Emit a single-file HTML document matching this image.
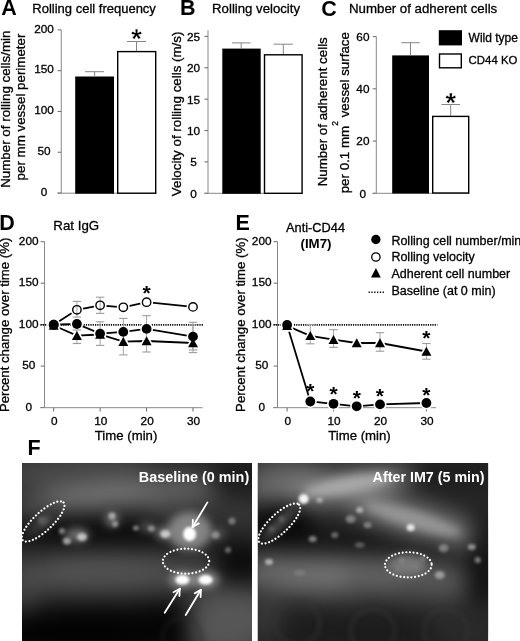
<!DOCTYPE html>
<html><head><meta charset="utf-8"><style>
html,body{margin:0;padding:0;background:#fff;}
body{width:520px;height:641px;overflow:hidden;}
svg{display:block;font-family:"Liberation Sans", sans-serif;filter:grayscale(1);}
</style></head><body>
<svg width="520" height="641" viewBox="0 0 520 641">
<rect width="520" height="641" fill="#fff"/>
<text x="1.2" y="14.8" font-size="21.5" text-anchor="start" font-weight="bold" fill="#000" >A</text>
<text x="32.3" y="12.6" font-size="13" text-anchor="start" font-weight="normal" fill="#000" stroke="#000" stroke-width="0.3" >Rolling cell frequency</text>
<text transform="translate(10.2,187.8) rotate(-90)" font-size="13.35" text-anchor="start" stroke="#000" stroke-width="0.3">Number of rolling cells/min</text>
<text transform="translate(25.2,180.4) rotate(-90)" font-size="13.35" text-anchor="start" stroke="#000" stroke-width="0.3">per mm vessel perimeter</text>
<line x1="61.25" y1="30" x2="61.25" y2="193.2" stroke="#888888" stroke-width="1" />
<line x1="57.65" y1="193.0" x2="61.25" y2="193.0" stroke="#6a6a6a" stroke-width="1" />
<text x="44.1" y="195.7244" font-size="11.8" text-anchor="middle" font-weight="normal" fill="#000" stroke="#000" stroke-width="0.3" >0</text>
<line x1="57.65" y1="152.225" x2="61.25" y2="152.225" stroke="#6a6a6a" stroke-width="1" />
<text x="44.1" y="154.9494" font-size="11.8" text-anchor="middle" font-weight="normal" fill="#000" stroke="#000" stroke-width="0.3" >50</text>
<line x1="57.65" y1="111.45" x2="61.25" y2="111.45" stroke="#6a6a6a" stroke-width="1" />
<text x="44.1" y="114.1744" font-size="11.8" text-anchor="middle" font-weight="normal" fill="#000" stroke="#000" stroke-width="0.3" >100</text>
<line x1="57.65" y1="70.675" x2="61.25" y2="70.675" stroke="#6a6a6a" stroke-width="1" />
<text x="44.1" y="73.3994" font-size="11.8" text-anchor="middle" font-weight="normal" fill="#000" stroke="#000" stroke-width="0.3" >150</text>
<line x1="57.65" y1="29.900000000000006" x2="61.25" y2="29.900000000000006" stroke="#6a6a6a" stroke-width="1" />
<text x="44.1" y="32.62440000000001" font-size="11.8" text-anchor="middle" font-weight="normal" fill="#000" stroke="#000" stroke-width="0.3" >200</text>
<line x1="57.65" y1="193.2" x2="156.5" y2="193.2" stroke="#888888" stroke-width="1" />
<rect x="75.2" y="76.5" width="38.8" height="117.2" fill="#000" stroke="none" stroke-width="0"/>
<line x1="94.6" y1="76.7" x2="94.6" y2="71.7" stroke="#858585" stroke-width="1" />
<line x1="85" y1="71.7" x2="104" y2="71.7" stroke="#858585" stroke-width="1" />
<line x1="136.5" y1="51" x2="136.5" y2="41.5" stroke="#858585" stroke-width="1" />
<line x1="127" y1="41.5" x2="146" y2="41.5" stroke="#858585" stroke-width="1" />
<rect x="117.7" y="51.6" width="38" height="141.6" fill="#fff" stroke="#000" stroke-width="1.4"/>
<text x="136.6" y="48.2" font-size="27" text-anchor="middle" font-weight="bold" fill="#000" stroke="#fff" stroke-width="0.35">*</text>
<text x="180.0" y="14.9" font-size="21.5" text-anchor="start" font-weight="bold" fill="#000" >B</text>
<text x="212.1" y="12.6" font-size="13.2" text-anchor="start" font-weight="normal" fill="#000" stroke="#000" stroke-width="0.3" >Rolling velocity</text>
<text transform="translate(181.0,196.2) rotate(-90)" font-size="13.35" text-anchor="start" stroke="#000" stroke-width="0.3">Velocity of rolling cells (m/s)</text>
<line x1="208" y1="30.2" x2="208" y2="193.3" stroke="#888888" stroke-width="1" />
<line x1="204.4" y1="193.3" x2="208" y2="193.3" stroke="#6a6a6a" stroke-width="1" />
<text x="193.6" y="197.82440000000003" font-size="11.8" text-anchor="middle" font-weight="normal" fill="#000" stroke="#000" stroke-width="0.3" >0</text>
<line x1="204.4" y1="161.92000000000002" x2="208" y2="161.92000000000002" stroke="#6a6a6a" stroke-width="1" />
<text x="193.6" y="166.44440000000003" font-size="11.8" text-anchor="middle" font-weight="normal" fill="#000" stroke="#000" stroke-width="0.3" >5</text>
<line x1="204.4" y1="130.54000000000002" x2="208" y2="130.54000000000002" stroke="#6a6a6a" stroke-width="1" />
<text x="193.6" y="135.06440000000003" font-size="11.8" text-anchor="middle" font-weight="normal" fill="#000" stroke="#000" stroke-width="0.3" >10</text>
<line x1="204.4" y1="99.16000000000001" x2="208" y2="99.16000000000001" stroke="#6a6a6a" stroke-width="1" />
<text x="193.6" y="103.68440000000001" font-size="11.8" text-anchor="middle" font-weight="normal" fill="#000" stroke="#000" stroke-width="0.3" >15</text>
<line x1="204.4" y1="67.78000000000002" x2="208" y2="67.78000000000002" stroke="#6a6a6a" stroke-width="1" />
<text x="193.6" y="72.30440000000002" font-size="11.8" text-anchor="middle" font-weight="normal" fill="#000" stroke="#000" stroke-width="0.3" >20</text>
<line x1="204.4" y1="36.400000000000006" x2="208" y2="36.400000000000006" stroke="#6a6a6a" stroke-width="1" />
<text x="193.6" y="40.924400000000006" font-size="11.8" text-anchor="middle" font-weight="normal" fill="#000" stroke="#000" stroke-width="0.3" >25</text>
<line x1="204.4" y1="193.3" x2="303" y2="193.3" stroke="#888888" stroke-width="1" />
<rect x="222.3" y="48.6" width="38.4" height="145.20000000000002" fill="#000" stroke="none" stroke-width="0"/>
<line x1="241.2" y1="48.8" x2="241.2" y2="42.9" stroke="#858585" stroke-width="1" />
<line x1="232" y1="42.9" x2="250.5" y2="42.9" stroke="#858585" stroke-width="1" />
<line x1="283.3" y1="54.5" x2="283.3" y2="44.2" stroke="#858585" stroke-width="1" />
<line x1="273.7" y1="44.2" x2="292.8" y2="44.2" stroke="#858585" stroke-width="1" />
<rect x="264.5" y="54.8" width="37.6" height="138.5" fill="#fff" stroke="#000" stroke-width="1.4"/>
<text x="321.3" y="16.0" font-size="21.5" text-anchor="start" font-weight="bold" fill="#000" >C</text>
<text x="349" y="12.7" font-size="13.27" text-anchor="start" font-weight="normal" fill="#000" stroke="#000" stroke-width="0.3" >Number of adherent cells</text>
<text transform="translate(326.8,186.3) rotate(-90)" font-size="13.35" text-anchor="start" stroke="#000" stroke-width="0.3">Number of adherent cells</text>
<text transform="translate(348.8,193.3) rotate(-90)" font-size="13.35" text-anchor="start" stroke="#000" stroke-width="0.3">per 0.1 mm<tspan dy="-10.5" font-size="8.5">2</tspan><tspan dy="10.5"> vessel surface</tspan></text>
<line x1="376.3" y1="36.6" x2="376.3" y2="193.3" stroke="#888888" stroke-width="1" />
<line x1="372.7" y1="193.3" x2="376.3" y2="193.3" stroke="#6a6a6a" stroke-width="1" />
<text x="362.9" y="197.5244" font-size="11.8" text-anchor="middle" font-weight="normal" fill="#000" stroke="#000" stroke-width="0.3" >0</text>
<line x1="372.7" y1="141.06666666666666" x2="376.3" y2="141.06666666666666" stroke="#6a6a6a" stroke-width="1" />
<text x="362.9" y="145.29106666666667" font-size="11.8" text-anchor="middle" font-weight="normal" fill="#000" stroke="#000" stroke-width="0.3" >20</text>
<line x1="372.7" y1="88.83333333333334" x2="376.3" y2="88.83333333333334" stroke="#6a6a6a" stroke-width="1" />
<text x="362.9" y="93.05773333333335" font-size="11.8" text-anchor="middle" font-weight="normal" fill="#000" stroke="#000" stroke-width="0.3" >40</text>
<line x1="372.7" y1="36.599999999999994" x2="376.3" y2="36.599999999999994" stroke="#6a6a6a" stroke-width="1" />
<text x="362.9" y="40.8244" font-size="11.8" text-anchor="middle" font-weight="normal" fill="#000" stroke="#000" stroke-width="0.3" >60</text>
<line x1="372.7" y1="193.3" x2="469.5" y2="193.3" stroke="#888888" stroke-width="1" />
<rect x="392.2" y="55.4" width="36.8" height="138.1" fill="#000" stroke="none" stroke-width="0"/>
<line x1="410.5" y1="55.4" x2="410.5" y2="42.7" stroke="#858585" stroke-width="1" />
<line x1="401.3" y1="42.7" x2="419.7" y2="42.7" stroke="#858585" stroke-width="1" />
<line x1="450.7" y1="116.2" x2="450.7" y2="104.5" stroke="#858585" stroke-width="1" />
<line x1="441.5" y1="104.5" x2="460" y2="104.5" stroke="#858585" stroke-width="1" />
<rect x="432.7" y="116.4" width="36" height="76.60000000000001" fill="#fff" stroke="#000" stroke-width="1.4"/>
<text x="450.8" y="112.0" font-size="27" text-anchor="middle" font-weight="bold" fill="#000" stroke="#fff" stroke-width="0.35">*</text>
<rect x="438.8" y="30.2" width="23.2" height="15.2" fill="#000" stroke="none" stroke-width="0"/>
<rect x="439.5" y="54" width="21.8" height="13.8" fill="#fff" stroke="#000" stroke-width="1.4"/>
<text x="468.6" y="42.4" font-size="12" text-anchor="start" font-weight="normal" fill="#000" stroke="#000" stroke-width="0.3" >Wild type</text>
<text x="468.6" y="64.3" font-size="11.4" text-anchor="start" font-weight="normal" fill="#000" stroke="#000" stroke-width="0.3" >CD44 KO</text>
<text x="-0.7" y="230.0" font-size="21.5" text-anchor="start" font-weight="bold" fill="#000" >D</text>
<text x="53.3" y="230.2" font-size="13.3" text-anchor="start" font-weight="normal" fill="#000" stroke="#000" stroke-width="0.3" >Rat IgG</text>
<text transform="translate(9.4,412.1) rotate(-90)" font-size="13.2" text-anchor="start" stroke="#000" stroke-width="0.3">Percent change over time (%)</text>
<line x1="44.5" y1="241.70000000000002" x2="44.5" y2="407.5" stroke="#888888" stroke-width="1" />
<line x1="40.7" y1="407.5" x2="44.5" y2="407.5" stroke="#6a6a6a" stroke-width="1" />
<text x="28.7" y="410.8244" font-size="11.8" text-anchor="middle" font-weight="normal" fill="#000" stroke="#000" stroke-width="0.3" >0</text>
<line x1="40.7" y1="366.05" x2="44.5" y2="366.05" stroke="#6a6a6a" stroke-width="1" />
<text x="28.7" y="369.37440000000004" font-size="11.8" text-anchor="middle" font-weight="normal" fill="#000" stroke="#000" stroke-width="0.3" >50</text>
<line x1="40.7" y1="324.6" x2="44.5" y2="324.6" stroke="#6a6a6a" stroke-width="1" />
<text x="28.7" y="327.92440000000005" font-size="11.8" text-anchor="middle" font-weight="normal" fill="#000" stroke="#000" stroke-width="0.3" >100</text>
<line x1="40.7" y1="283.15" x2="44.5" y2="283.15" stroke="#6a6a6a" stroke-width="1" />
<text x="28.7" y="286.4744" font-size="11.8" text-anchor="middle" font-weight="normal" fill="#000" stroke="#000" stroke-width="0.3" >150</text>
<line x1="40.7" y1="241.70000000000002" x2="44.5" y2="241.70000000000002" stroke="#6a6a6a" stroke-width="1" />
<text x="28.7" y="245.0244" font-size="11.8" text-anchor="middle" font-weight="normal" fill="#000" stroke="#000" stroke-width="0.3" >200</text>
<line x1="40.1" y1="407.7" x2="202.59" y2="407.7" stroke="#888888" stroke-width="1" />
<line x1="53.7" y1="407.7" x2="53.7" y2="411.5" stroke="#6a6a6a" stroke-width="1" />
<text x="54.300000000000004" y="424.5" font-size="11.8" text-anchor="middle" font-weight="normal" fill="#000" stroke="#000" stroke-width="0.3" >0</text>
<line x1="100.13" y1="407.7" x2="100.13" y2="411.5" stroke="#6a6a6a" stroke-width="1" />
<text x="100.72999999999999" y="424.5" font-size="11.8" text-anchor="middle" font-weight="normal" fill="#000" stroke="#000" stroke-width="0.3" >10</text>
<line x1="146.56" y1="407.7" x2="146.56" y2="411.5" stroke="#6a6a6a" stroke-width="1" />
<text x="147.16" y="424.5" font-size="11.8" text-anchor="middle" font-weight="normal" fill="#000" stroke="#000" stroke-width="0.3" >20</text>
<line x1="192.99" y1="407.7" x2="192.99" y2="411.5" stroke="#6a6a6a" stroke-width="1" />
<text x="193.59" y="424.5" font-size="11.8" text-anchor="middle" font-weight="normal" fill="#000" stroke="#000" stroke-width="0.3" >30</text>
<text x="126.045" y="440" font-size="13.2" text-anchor="middle" font-weight="normal" fill="#000" stroke="#000" stroke-width="0.3" >Time (min)</text>
<line x1="40.5" y1="324.90000000000003" x2="203.99" y2="324.90000000000003" stroke="#000" stroke-width="1.7" stroke-dasharray="1.2 1.07"/>
<polyline points="53.7,325.5 76.9,335.6 100.1,334.5 123.3,341.6 146.6,341.0 193.0,343.0" fill="none" stroke="#000" stroke-width="1.8"/>
<polyline points="53.7,324.7 76.9,324.0 100.1,333.6 123.3,331.9 146.6,328.9 193.0,336.6" fill="none" stroke="#000" stroke-width="1.8"/>
<polyline points="53.7,324.7 76.9,309.8 100.1,305.3 123.3,307.3 146.6,302.2 193.0,306.9" fill="none" stroke="#000" stroke-width="1.8"/>
<circle cx="53.7" cy="324.7" r="6.5" fill="#fff"/>
<circle cx="76.9" cy="309.8" r="6.5" fill="#fff"/>
<circle cx="100.1" cy="305.3" r="6.5" fill="#fff"/>
<circle cx="123.3" cy="307.3" r="6.5" fill="#fff"/>
<circle cx="146.6" cy="302.2" r="6.5" fill="#fff"/>
<circle cx="193.0" cy="306.9" r="6.5" fill="#fff"/>
<polygon points="48.7,329.8 58.7,329.8 53.7,320.8" fill="#fff" stroke="#fff" stroke-width="3.2" stroke-linejoin="round"/>
<polygon points="71.9,339.90000000000003 81.9,339.90000000000003 76.9,330.90000000000003" fill="#fff" stroke="#fff" stroke-width="3.2" stroke-linejoin="round"/>
<polygon points="95.1,338.8 105.1,338.8 100.1,329.8" fill="#fff" stroke="#fff" stroke-width="3.2" stroke-linejoin="round"/>
<polygon points="118.3,345.90000000000003 128.3,345.90000000000003 123.3,336.90000000000003" fill="#fff" stroke="#fff" stroke-width="3.2" stroke-linejoin="round"/>
<polygon points="141.6,345.3 151.6,345.3 146.6,336.3" fill="#fff" stroke="#fff" stroke-width="3.2" stroke-linejoin="round"/>
<polygon points="188.0,347.3 198.0,347.3 193.0,338.3" fill="#fff" stroke="#fff" stroke-width="3.2" stroke-linejoin="round"/>
<circle cx="53.7" cy="324.7" r="6.5" fill="#fff"/>
<circle cx="76.9" cy="324.0" r="6.5" fill="#fff"/>
<circle cx="100.1" cy="333.6" r="6.5" fill="#fff"/>
<circle cx="123.3" cy="331.9" r="6.5" fill="#fff"/>
<circle cx="146.6" cy="328.9" r="6.5" fill="#fff"/>
<circle cx="193.0" cy="336.6" r="6.5" fill="#fff"/>
<line x1="76.915" y1="301.4" x2="76.915" y2="317.1" stroke="#9c9c9c" stroke-width="0.9" />
<line x1="72.715" y1="301.4" x2="81.11500000000001" y2="301.4" stroke="#9c9c9c" stroke-width="1.1" />
<line x1="72.715" y1="317.1" x2="81.11500000000001" y2="317.1" stroke="#9c9c9c" stroke-width="1.1" />
<line x1="76.915" y1="330" x2="76.915" y2="343.5" stroke="#9c9c9c" stroke-width="0.9" />
<line x1="72.715" y1="330" x2="81.11500000000001" y2="330" stroke="#9c9c9c" stroke-width="1.1" />
<line x1="72.715" y1="343.5" x2="81.11500000000001" y2="343.5" stroke="#9c9c9c" stroke-width="1.1" />
<line x1="100.13" y1="297.2" x2="100.13" y2="313.4" stroke="#9c9c9c" stroke-width="0.9" />
<line x1="95.92999999999999" y1="297.2" x2="104.33" y2="297.2" stroke="#9c9c9c" stroke-width="1.1" />
<line x1="95.92999999999999" y1="313.4" x2="104.33" y2="313.4" stroke="#9c9c9c" stroke-width="1.1" />
<line x1="100.13" y1="321.8" x2="100.13" y2="345.4" stroke="#9c9c9c" stroke-width="0.9" />
<line x1="95.92999999999999" y1="321.8" x2="104.33" y2="321.8" stroke="#9c9c9c" stroke-width="1.1" />
<line x1="95.92999999999999" y1="345.4" x2="104.33" y2="345.4" stroke="#9c9c9c" stroke-width="1.1" />
<line x1="123.345" y1="318.4" x2="123.345" y2="354.9" stroke="#9c9c9c" stroke-width="0.9" />
<line x1="119.145" y1="318.4" x2="127.545" y2="318.4" stroke="#9c9c9c" stroke-width="1.1" />
<line x1="119.145" y1="354.9" x2="127.545" y2="354.9" stroke="#9c9c9c" stroke-width="1.1" />
<line x1="146.56" y1="315.7" x2="146.56" y2="352" stroke="#9c9c9c" stroke-width="0.9" />
<line x1="142.36" y1="315.7" x2="150.76" y2="315.7" stroke="#9c9c9c" stroke-width="1.1" />
<line x1="142.36" y1="352" x2="150.76" y2="352" stroke="#9c9c9c" stroke-width="1.1" />
<line x1="192.99" y1="322.3" x2="192.99" y2="350" stroke="#9c9c9c" stroke-width="0.9" />
<line x1="188.79000000000002" y1="322.3" x2="197.19" y2="322.3" stroke="#9c9c9c" stroke-width="1.1" />
<line x1="188.79000000000002" y1="350" x2="197.19" y2="350" stroke="#9c9c9c" stroke-width="1.1" />
<line x1="192.99" y1="324.9" x2="192.99" y2="352.6" stroke="#9c9c9c" stroke-width="0.9" />
<line x1="188.79000000000002" y1="324.9" x2="197.19" y2="324.9" stroke="#9c9c9c" stroke-width="1.1" />
<line x1="188.79000000000002" y1="352.6" x2="197.19" y2="352.6" stroke="#9c9c9c" stroke-width="1.1" />
<circle cx="53.7" cy="324.7" r="4.2" fill="none" stroke="#000" stroke-width="1.4"/>
<circle cx="76.9" cy="309.8" r="4.2" fill="none" stroke="#000" stroke-width="1.4"/>
<circle cx="100.1" cy="305.3" r="4.2" fill="none" stroke="#000" stroke-width="1.4"/>
<circle cx="123.3" cy="307.3" r="4.2" fill="none" stroke="#000" stroke-width="1.4"/>
<circle cx="146.6" cy="302.2" r="4.2" fill="none" stroke="#000" stroke-width="1.4"/>
<circle cx="193.0" cy="306.9" r="4.2" fill="none" stroke="#000" stroke-width="1.4"/>
<polygon points="48.7,329.8 58.7,329.8 53.7,320.8" fill="#000"/>
<polygon points="71.9,339.90000000000003 81.9,339.90000000000003 76.9,330.90000000000003" fill="#000"/>
<polygon points="95.1,338.8 105.1,338.8 100.1,329.8" fill="#000"/>
<polygon points="118.3,345.90000000000003 128.3,345.90000000000003 123.3,336.90000000000003" fill="#000"/>
<polygon points="141.6,345.3 151.6,345.3 146.6,336.3" fill="#000"/>
<polygon points="188.0,347.3 198.0,347.3 193.0,338.3" fill="#000"/>
<circle cx="53.7" cy="324.7" r="4.9" fill="#000"/>
<circle cx="76.9" cy="324.0" r="4.9" fill="#000"/>
<circle cx="100.1" cy="333.6" r="4.9" fill="#000"/>
<circle cx="123.3" cy="331.9" r="4.9" fill="#000"/>
<circle cx="146.6" cy="328.9" r="4.9" fill="#000"/>
<circle cx="193.0" cy="336.6" r="4.9" fill="#000"/>
<text x="146.56" y="299.7" font-size="21" text-anchor="middle" font-weight="bold" fill="#000" >*</text>
<text x="235.5" y="230.3" font-size="21.5" text-anchor="start" font-weight="bold" fill="#000" >E</text>
<text x="286" y="231.9" font-size="12.8" text-anchor="start" font-weight="normal" fill="#000" stroke="#000" stroke-width="0.3" >Anti-CD44</text>
<text x="316.0" y="247.6" font-size="13.3" text-anchor="middle" font-weight="bold" fill="#000" >(IM7)</text>
<text transform="translate(245.2,411.9) rotate(-90)" font-size="13.2" text-anchor="start" stroke="#000" stroke-width="0.3">Percent change over time (%)</text>
<line x1="277.5" y1="241.70000000000002" x2="277.5" y2="407.5" stroke="#888888" stroke-width="1" />
<line x1="273.7" y1="407.5" x2="277.5" y2="407.5" stroke="#6a6a6a" stroke-width="1" />
<text x="261.7" y="410.8244" font-size="11.8" text-anchor="middle" font-weight="normal" fill="#000" stroke="#000" stroke-width="0.3" >0</text>
<line x1="273.7" y1="366.05" x2="277.5" y2="366.05" stroke="#6a6a6a" stroke-width="1" />
<text x="261.7" y="369.37440000000004" font-size="11.8" text-anchor="middle" font-weight="normal" fill="#000" stroke="#000" stroke-width="0.3" >50</text>
<line x1="273.7" y1="324.6" x2="277.5" y2="324.6" stroke="#6a6a6a" stroke-width="1" />
<text x="261.7" y="327.92440000000005" font-size="11.8" text-anchor="middle" font-weight="normal" fill="#000" stroke="#000" stroke-width="0.3" >100</text>
<line x1="273.7" y1="283.15" x2="277.5" y2="283.15" stroke="#6a6a6a" stroke-width="1" />
<text x="261.7" y="286.4744" font-size="11.8" text-anchor="middle" font-weight="normal" fill="#000" stroke="#000" stroke-width="0.3" >150</text>
<line x1="273.7" y1="241.70000000000002" x2="277.5" y2="241.70000000000002" stroke="#6a6a6a" stroke-width="1" />
<text x="261.7" y="245.0244" font-size="11.8" text-anchor="middle" font-weight="normal" fill="#000" stroke="#000" stroke-width="0.3" >200</text>
<line x1="273.1" y1="407.7" x2="435.99" y2="407.7" stroke="#888888" stroke-width="1" />
<line x1="287.1" y1="407.7" x2="287.1" y2="411.5" stroke="#6a6a6a" stroke-width="1" />
<text x="287.70000000000005" y="424.5" font-size="11.8" text-anchor="middle" font-weight="normal" fill="#000" stroke="#000" stroke-width="0.3" >0</text>
<line x1="333.53000000000003" y1="407.7" x2="333.53000000000003" y2="411.5" stroke="#6a6a6a" stroke-width="1" />
<text x="334.13000000000005" y="424.5" font-size="11.8" text-anchor="middle" font-weight="normal" fill="#000" stroke="#000" stroke-width="0.3" >10</text>
<line x1="379.96000000000004" y1="407.7" x2="379.96000000000004" y2="411.5" stroke="#6a6a6a" stroke-width="1" />
<text x="380.56000000000006" y="424.5" font-size="11.8" text-anchor="middle" font-weight="normal" fill="#000" stroke="#000" stroke-width="0.3" >20</text>
<line x1="426.39" y1="407.7" x2="426.39" y2="411.5" stroke="#6a6a6a" stroke-width="1" />
<text x="426.99" y="424.5" font-size="11.8" text-anchor="middle" font-weight="normal" fill="#000" stroke="#000" stroke-width="0.3" >30</text>
<text x="359.445" y="440" font-size="13.2" text-anchor="middle" font-weight="normal" fill="#000" stroke="#000" stroke-width="0.3" >Time (min)</text>
<line x1="273.5" y1="324.90000000000003" x2="437.39" y2="324.90000000000003" stroke="#000" stroke-width="1.7" stroke-dasharray="1.2 1.07"/>
<polyline points="287.1,325.8 310.3,335.8 333.5,339.6 356.7,343.0 380.0,343.0 426.4,351.5" fill="none" stroke="#000" stroke-width="1.8"/>
<polyline points="287.1,325.0 310.3,401.5 333.5,403.8 356.7,406.3 380.0,404.4 426.4,403.0" fill="none" stroke="#000" stroke-width="1.8"/>
<polygon points="282.1,330.1 292.1,330.1 287.1,321.1" fill="#fff" stroke="#fff" stroke-width="3.2" stroke-linejoin="round"/>
<polygon points="305.3,340.1 315.3,340.1 310.3,331.1" fill="#fff" stroke="#fff" stroke-width="3.2" stroke-linejoin="round"/>
<polygon points="328.5,343.90000000000003 338.5,343.90000000000003 333.5,334.90000000000003" fill="#fff" stroke="#fff" stroke-width="3.2" stroke-linejoin="round"/>
<polygon points="351.7,347.3 361.7,347.3 356.7,338.3" fill="#fff" stroke="#fff" stroke-width="3.2" stroke-linejoin="round"/>
<polygon points="375.0,347.3 385.0,347.3 380.0,338.3" fill="#fff" stroke="#fff" stroke-width="3.2" stroke-linejoin="round"/>
<polygon points="421.4,355.8 431.4,355.8 426.4,346.8" fill="#fff" stroke="#fff" stroke-width="3.2" stroke-linejoin="round"/>
<circle cx="287.1" cy="325.0" r="6.5" fill="#fff"/>
<circle cx="310.3" cy="401.5" r="6.5" fill="#fff"/>
<circle cx="333.5" cy="403.8" r="6.5" fill="#fff"/>
<circle cx="356.7" cy="406.3" r="6.5" fill="#fff"/>
<circle cx="380.0" cy="404.4" r="6.5" fill="#fff"/>
<circle cx="426.4" cy="403.0" r="6.5" fill="#fff"/>
<line x1="310.315" y1="324.6" x2="310.315" y2="343.8" stroke="#9c9c9c" stroke-width="0.9" />
<line x1="306.115" y1="324.6" x2="314.515" y2="324.6" stroke="#9c9c9c" stroke-width="1.1" />
<line x1="306.115" y1="343.8" x2="314.515" y2="343.8" stroke="#9c9c9c" stroke-width="1.1" />
<line x1="333.53000000000003" y1="329.7" x2="333.53000000000003" y2="347.4" stroke="#9c9c9c" stroke-width="0.9" />
<line x1="329.33000000000004" y1="329.7" x2="337.73" y2="329.7" stroke="#9c9c9c" stroke-width="1.1" />
<line x1="329.33000000000004" y1="347.4" x2="337.73" y2="347.4" stroke="#9c9c9c" stroke-width="1.1" />
<line x1="379.96000000000004" y1="332.7" x2="379.96000000000004" y2="351.2" stroke="#9c9c9c" stroke-width="0.9" />
<line x1="375.76000000000005" y1="332.7" x2="384.16" y2="332.7" stroke="#9c9c9c" stroke-width="1.1" />
<line x1="375.76000000000005" y1="351.2" x2="384.16" y2="351.2" stroke="#9c9c9c" stroke-width="1.1" />
<line x1="426.39" y1="343.5" x2="426.39" y2="359.2" stroke="#9c9c9c" stroke-width="0.9" />
<line x1="422.19" y1="343.5" x2="430.59" y2="343.5" stroke="#9c9c9c" stroke-width="1.1" />
<line x1="422.19" y1="359.2" x2="430.59" y2="359.2" stroke="#9c9c9c" stroke-width="1.1" />
<polygon points="282.1,330.1 292.1,330.1 287.1,321.1" fill="#000"/>
<polygon points="305.3,340.1 315.3,340.1 310.3,331.1" fill="#000"/>
<polygon points="328.5,343.90000000000003 338.5,343.90000000000003 333.5,334.90000000000003" fill="#000"/>
<polygon points="351.7,347.3 361.7,347.3 356.7,338.3" fill="#000"/>
<polygon points="375.0,347.3 385.0,347.3 380.0,338.3" fill="#000"/>
<polygon points="421.4,355.8 431.4,355.8 426.4,346.8" fill="#000"/>
<circle cx="287.1" cy="325.0" r="4.9" fill="#000"/>
<circle cx="310.3" cy="401.5" r="4.9" fill="#000"/>
<circle cx="333.5" cy="403.8" r="4.9" fill="#000"/>
<circle cx="356.7" cy="406.3" r="4.9" fill="#000"/>
<circle cx="380.0" cy="404.4" r="4.9" fill="#000"/>
<circle cx="426.4" cy="403.0" r="4.9" fill="#000"/>
<text x="310.315" y="398.2" font-size="21" text-anchor="middle" font-weight="bold" fill="#000" >*</text>
<text x="333.53000000000003" y="401.3" font-size="21" text-anchor="middle" font-weight="bold" fill="#000" >*</text>
<text x="356.745" y="405.4" font-size="21" text-anchor="middle" font-weight="bold" fill="#000" >*</text>
<text x="379.96000000000004" y="403.4" font-size="21" text-anchor="middle" font-weight="bold" fill="#000" >*</text>
<text x="426.39" y="401.5" font-size="21" text-anchor="middle" font-weight="bold" fill="#000" >*</text>
<text x="426.39" y="344.7" font-size="21" text-anchor="middle" font-weight="bold" fill="#000" >*</text>
<circle cx="375.9" cy="239.5" r="4.65" fill="#000"/>
<circle cx="375.9" cy="257" r="4.2" fill="#fff" stroke="#000" stroke-width="1.3"/>
<polygon points="371,277.4 380.8,277.4 375.9,268.1" fill="#000"/>
<line x1="368.6" y1="292.3" x2="384" y2="292.3" stroke="#000" stroke-width="1.4" stroke-dasharray="1.3 1.5"/>
<text x="391.4" y="244.5" font-size="12.5" text-anchor="start" font-weight="normal" fill="#000" stroke="#000" stroke-width="0.3" >Rolling cell number/min</text>
<text x="391.4" y="261.4" font-size="12.5" text-anchor="start" font-weight="normal" fill="#000" stroke="#000" stroke-width="0.3" >Rolling velocity</text>
<text x="391.4" y="278.3" font-size="12.5" text-anchor="start" font-weight="normal" fill="#000" stroke="#000" stroke-width="0.3" >Adherent cell number</text>
<text x="391.4" y="295.2" font-size="12.5" text-anchor="start" font-weight="normal" fill="#000" stroke="#000" stroke-width="0.3" >Baseline (at 0 min)</text>
<text x="27.5" y="455.2" font-size="21.5" text-anchor="start" font-weight="bold" fill="#000" >F</text>
<defs><filter id="bl14" filterUnits="userSpaceOnUse" x="0" y="440" width="520" height="220" color-interpolation-filters="sRGB"><feGaussianBlur stdDeviation="11"/></filter><filter id="bl8" filterUnits="userSpaceOnUse" x="0" y="440" width="520" height="220" color-interpolation-filters="sRGB"><feGaussianBlur stdDeviation="6"/></filter><filter id="bl5" filterUnits="userSpaceOnUse" x="0" y="440" width="520" height="220" color-interpolation-filters="sRGB"><feGaussianBlur stdDeviation="4"/></filter><filter id="bl3" filterUnits="userSpaceOnUse" x="0" y="440" width="520" height="220" color-interpolation-filters="sRGB"><feGaussianBlur stdDeviation="2.6"/></filter><filter id="bl2" filterUnits="userSpaceOnUse" x="0" y="440" width="520" height="220" color-interpolation-filters="sRGB"><feGaussianBlur stdDeviation="1.7"/></filter><filter id="bl1" filterUnits="userSpaceOnUse" x="0" y="440" width="520" height="220" color-interpolation-filters="sRGB"><feGaussianBlur stdDeviation="1.0"/></filter>
<clipPath id="c1"><rect x="22" y="463" width="230" height="178"/></clipPath>
<clipPath id="c2"><rect x="257.7" y="463" width="230.5" height="178"/></clipPath>
</defs>
<g clip-path="url(#c1)">
<rect x="22" y="463" width="230" height="178" fill="#262626"/>
<g filter="url(#bl14)">
<ellipse cx="92.0" cy="473.0" rx="95" ry="18" fill="#4a4a4a" opacity="1"/>
<ellipse cx="177.0" cy="477.0" rx="40" ry="14" fill="#343434" opacity="1"/>
<ellipse cx="127.0" cy="494.0" rx="115" ry="12" fill="#686868" opacity="1" transform="rotate(-5 127.0 494.0)"/>
<ellipse cx="102.0" cy="495.0" rx="55" ry="10" fill="#7a7a7a" opacity="1" transform="rotate(-5 102.0 495.0)"/>
<ellipse cx="244.0" cy="477.0" rx="36" ry="20" fill="#1c1c1c" opacity="1"/>
<ellipse cx="197.0" cy="515.0" rx="50" ry="18" fill="#404040" opacity="1"/>
<ellipse cx="102.0" cy="533.0" rx="100" ry="15" fill="#0c0c0c" opacity="1" transform="rotate(2 102.0 533.0)"/>
<ellipse cx="212.0" cy="527.0" rx="45" ry="18" fill="#2e2e2e" opacity="1"/>
<ellipse cx="250.0" cy="511.0" rx="12" ry="14" fill="#3a3a3a" opacity="1"/>
<ellipse cx="32.0" cy="511.0" rx="15" ry="10" fill="#4a4a4a" opacity="1"/>
<ellipse cx="117.0" cy="573.0" rx="115" ry="20" fill="#4e4e4e" opacity="1" transform="rotate(-2 117.0 573.0)"/>
<ellipse cx="92.0" cy="563.0" rx="55" ry="10" fill="#555555" opacity="1" transform="rotate(-2 92.0 563.0)"/>
<ellipse cx="238.0" cy="561.0" rx="26" ry="22" fill="#0c0c0c" opacity="1"/>
<ellipse cx="218.0" cy="601.0" rx="25" ry="14" fill="#4a4a4a" opacity="1"/>
<ellipse cx="186.0" cy="561.0" rx="20" ry="10" fill="#3c3c3c" opacity="1"/>
<ellipse cx="97.0" cy="634.0" rx="110" ry="28" fill="#030303" opacity="1"/>
<ellipse cx="157.0" cy="631.0" rx="40" ry="28" fill="#050505" opacity="1"/>
<ellipse cx="232.0" cy="623.0" rx="45" ry="34" fill="#565656" opacity="1" transform="rotate(-15 232.0 623.0)"/>
<ellipse cx="25.0" cy="583.0" rx="10" ry="30" fill="#4a4a4a" opacity="1"/>
</g>
<g filter="url(#bl5)">
<ellipse cx="43.3" cy="521.6" rx="20" ry="6" fill="#3a3a3a" opacity="1" transform="rotate(-41 43.3 521.6)"/>
</g>
<g filter="url(#bl3)">
<ellipse cx="44.0" cy="521.0" rx="6" ry="4" fill="#555555" opacity="1" transform="rotate(-41 44.0 521.0)"/>
</g>
<g filter="url(#bl3)" opacity="0.5">
<circle cx="182.0" cy="638.0" r="20" fill="none" stroke="#2a2a2a" stroke-width="3"/>
</g>
<g filter="url(#bl5)">
<ellipse cx="189.5" cy="531.0" rx="22" ry="19" fill="#858585" opacity="1"/>
<ellipse cx="182.4" cy="579.8" rx="13" ry="8" fill="#909090" opacity="1"/>
<ellipse cx="205.6" cy="579.8" rx="13" ry="8" fill="#909090" opacity="1"/>
<ellipse cx="165.0" cy="533.0" rx="10" ry="6" fill="#808080" opacity="1"/>
<ellipse cx="77.0" cy="535.0" rx="12" ry="7" fill="#707070" opacity="1"/>
<ellipse cx="112.0" cy="519.0" rx="7" ry="8" fill="#6a6a6a" opacity="1"/>
<ellipse cx="147.0" cy="527.0" rx="7" ry="5" fill="#5a5a5a" opacity="1"/>
<ellipse cx="218.0" cy="534.0" rx="7" ry="5" fill="#5a5a5a" opacity="1"/>
</g>
<g filter="url(#bl2)">
<ellipse cx="189.6" cy="534.0" rx="6.5" ry="7.2" fill="#ffffff" opacity="1"/>
<ellipse cx="182.4" cy="579.8" rx="7" ry="4.8" fill="#ffffff" opacity="1"/>
<ellipse cx="205.6" cy="579.8" rx="7" ry="4.8" fill="#ffffff" opacity="1"/>
<ellipse cx="165.3" cy="534.0" rx="5" ry="4" fill="#c8c8c8" opacity="1"/>
<ellipse cx="215.5" cy="535.0" rx="4" ry="3.5" fill="#909090" opacity="1"/>
<ellipse cx="151.4" cy="528.5" rx="3.5" ry="3" fill="#909090" opacity="1"/>
<ellipse cx="112.0" cy="516.0" rx="3.5" ry="3.5" fill="#a8a8a8" opacity="1"/>
<ellipse cx="115.0" cy="524.0" rx="3" ry="3" fill="#989898" opacity="1"/>
<ellipse cx="82.0" cy="537.0" rx="5" ry="4" fill="#c0c0c0" opacity="1"/>
<ellipse cx="67.0" cy="541.0" rx="4" ry="3.5" fill="#a0a0a0" opacity="1"/>
<ellipse cx="62.0" cy="531.0" rx="3" ry="3" fill="#808080" opacity="1"/>
<ellipse cx="136.0" cy="528.0" rx="3" ry="2.5" fill="#808080" opacity="1"/>
<ellipse cx="232.0" cy="521.0" rx="3.5" ry="3.5" fill="#7a7a7a" opacity="1"/>
<ellipse cx="228.0" cy="550.0" rx="3" ry="3" fill="#6a6a6a" opacity="1"/>
<ellipse cx="42.0" cy="520.0" rx="4" ry="3" fill="#5a5a5a" opacity="1"/>
</g>
<ellipse cx="43.2" cy="521.4" rx="27.8" ry="9.3" fill="none" stroke="#fff" stroke-width="2.2" stroke-linecap="round" stroke-dasharray="0.01 3.65" transform="rotate(-43 43.2 521.4)"/>
<ellipse cx="186.0" cy="561.2" rx="23.2" ry="12.5" fill="none" stroke="#fff" stroke-width="2.2" stroke-linecap="round" stroke-dasharray="0.01 3.65"/>
<line x1="207.4" y1="502.4" x2="192.6" y2="527.0" stroke="#fff" stroke-width="1.8" stroke-linecap="round"/>
<line x1="192.6" y1="527.0" x2="192.9" y2="519.8" stroke="#fff" stroke-width="1.8" stroke-linecap="round"/>
<line x1="192.6" y1="527.0" x2="198.8" y2="523.4" stroke="#fff" stroke-width="1.8" stroke-linecap="round"/>
<line x1="164.7" y1="612.8" x2="179.8" y2="588.8" stroke="#fff" stroke-width="1.8" stroke-linecap="round"/>
<line x1="179.8" y1="588.8" x2="179.4" y2="596.0" stroke="#fff" stroke-width="1.8" stroke-linecap="round"/>
<line x1="179.8" y1="588.8" x2="173.5" y2="592.3" stroke="#fff" stroke-width="1.8" stroke-linecap="round"/>
<line x1="185.7" y1="615.0" x2="200.9" y2="589.8" stroke="#fff" stroke-width="1.8" stroke-linecap="round"/>
<line x1="200.9" y1="589.8" x2="200.6" y2="597.0" stroke="#fff" stroke-width="1.8" stroke-linecap="round"/>
<line x1="200.9" y1="589.8" x2="194.7" y2="593.4" stroke="#fff" stroke-width="1.8" stroke-linecap="round"/>
<text x="249.2" y="481.7" font-size="14.4" font-weight="bold" fill="#fff" text-anchor="end">Baseline (0 min)</text>
</g>
<g clip-path="url(#c2)">
<rect x="257.7" y="463" width="230.5" height="178" fill="#262626"/>
<g filter="url(#bl14)">
<ellipse cx="287.7" cy="483.0" rx="45" ry="25" fill="#606060" opacity="1"/>
<ellipse cx="442.7" cy="473.0" rx="60" ry="16" fill="#1e1e1e" opacity="1"/>
<ellipse cx="335.7" cy="488.0" rx="80" ry="15" fill="#888888" opacity="1" transform="rotate(-10 335.7 488.0)"/>
<ellipse cx="417.7" cy="521.0" rx="80" ry="17" fill="#7a7a7a" opacity="1" transform="rotate(17 417.7 521.0)"/>
<ellipse cx="281.7" cy="525.0" rx="32" ry="26" fill="#060606" opacity="1"/>
<ellipse cx="357.7" cy="543.0" rx="100" ry="9" fill="#101010" opacity="1" transform="rotate(3 357.7 543.0)"/>
<ellipse cx="437.7" cy="561.0" rx="60" ry="9" fill="#0e0e0e" opacity="1" transform="rotate(18 437.7 561.0)"/>
<ellipse cx="481.7" cy="573.0" rx="12" ry="60" fill="#0c0c0c" opacity="1"/>
<ellipse cx="462.7" cy="568.0" rx="24" ry="14" fill="#141414" opacity="1"/>
<ellipse cx="352.7" cy="577.0" rx="115" ry="20" fill="#646464" opacity="1" transform="rotate(-1 352.7 577.0)"/>
<ellipse cx="302.7" cy="570.0" rx="55" ry="13" fill="#747474" opacity="1"/>
<ellipse cx="367.7" cy="634.0" rx="125" ry="20" fill="#1c1c1c" opacity="1"/>
<ellipse cx="265.7" cy="613.0" rx="14" ry="30" fill="#3a3a3a" opacity="1"/>
<ellipse cx="407.7" cy="587.0" rx="62" ry="13" fill="#505050" opacity="1" transform="rotate(6 407.7 587.0)"/>
<ellipse cx="382.7" cy="580.0" rx="22" ry="9" fill="#626262" opacity="1"/>
<ellipse cx="462.7" cy="623.0" rx="35" ry="25" fill="#2a2a2a" opacity="1"/>
<ellipse cx="277.7" cy="566.0" rx="28" ry="12" fill="#6a6a6a" opacity="1"/>
</g>
<g filter="url(#bl5)">
<ellipse cx="347.7" cy="485.0" rx="45" ry="8" fill="#a8a8a8" opacity="1" transform="rotate(-10 347.7 485.0)"/>
<ellipse cx="412.7" cy="519.0" rx="50" ry="8" fill="#959595" opacity="1" transform="rotate(17 412.7 519.0)"/>
<ellipse cx="407.7" cy="565.0" rx="20" ry="10" fill="#7a7a7a" opacity="1"/>
<ellipse cx="279.3" cy="523.5" rx="22" ry="6" fill="#4a4a4a" opacity="1" transform="rotate(-43.5 279.3 523.5)"/>
</g>
<g filter="url(#bl3)" opacity="0.8">
<circle cx="297.7" cy="623.0" r="22" fill="none" stroke="#363636" stroke-width="2.5"/>
<circle cx="372.7" cy="631.0" r="22" fill="none" stroke="#363636" stroke-width="2.5"/>
<circle cx="445.7" cy="631.0" r="22" fill="none" stroke="#363636" stroke-width="2.5"/>
</g>
<g filter="url(#bl2)">
<ellipse cx="303.7" cy="499.0" rx="5" ry="5" fill="#f4f4f4" opacity="1"/>
<ellipse cx="410.7" cy="527.4" rx="4" ry="3.5" fill="#e8e8e8" opacity="1"/>
<ellipse cx="312.7" cy="539.0" rx="4" ry="3" fill="#808080" opacity="1"/>
<ellipse cx="350.7" cy="519.0" rx="5" ry="4" fill="#808080" opacity="1"/>
<ellipse cx="367.7" cy="525.0" rx="4" ry="3" fill="#808080" opacity="1"/>
<ellipse cx="334.7" cy="535.0" rx="3.5" ry="3" fill="#6a6a6a" opacity="1"/>
<ellipse cx="439.7" cy="575.0" rx="5" ry="4" fill="#9a9a9a" opacity="1"/>
<ellipse cx="443.7" cy="548.0" rx="5" ry="4" fill="#808080" opacity="1"/>
<ellipse cx="471.7" cy="547.0" rx="4" ry="3" fill="#909090" opacity="1"/>
<ellipse cx="477.7" cy="560.0" rx="3" ry="3" fill="#808080" opacity="1"/>
<ellipse cx="299.7" cy="573.0" rx="6" ry="3" fill="#7a7a7a" opacity="1"/>
<ellipse cx="319.7" cy="500.0" rx="3" ry="2.5" fill="#b4b4b4" opacity="1"/>
<ellipse cx="359.7" cy="510.0" rx="3.5" ry="3" fill="#b0b0b0" opacity="1"/>
<ellipse cx="359.7" cy="545.0" rx="5" ry="3" fill="#5a5a5a" opacity="1"/>
<ellipse cx="401.7" cy="561.0" rx="3" ry="3" fill="#808080" opacity="1"/>
<ellipse cx="415.7" cy="567.0" rx="3" ry="2.5" fill="#7a7a7a" opacity="1"/>
<ellipse cx="422.7" cy="559.0" rx="2.5" ry="2.5" fill="#7a7a7a" opacity="1"/>
<ellipse cx="397.7" cy="569.0" rx="2.5" ry="2.5" fill="#7a7a7a" opacity="1"/>
<ellipse cx="281.7" cy="519.0" rx="3" ry="3" fill="#5a5a5a" opacity="1"/>
<ellipse cx="269.0" cy="562.0" rx="4" ry="3" fill="#b0b0b0" opacity="1"/>
<ellipse cx="271.7" cy="529.0" rx="3" ry="3" fill="#555555" opacity="1"/>
</g>
<ellipse cx="279.3" cy="523.5" rx="27.4" ry="9.6" fill="none" stroke="#fff" stroke-width="2.2" stroke-linecap="round" stroke-dasharray="0.01 3.65" transform="rotate(-43.5 279.3 523.5)"/>
<ellipse cx="408.3" cy="564.8" rx="23.4" ry="12.6" fill="none" stroke="#fff" stroke-width="2.2" stroke-linecap="round" stroke-dasharray="0.01 3.65"/>
<text x="484.6" y="481.7" font-size="14.3" font-weight="bold" fill="#fff" text-anchor="end">After IM7 (5 min)</text>
</g>
</svg>
</body></html>
